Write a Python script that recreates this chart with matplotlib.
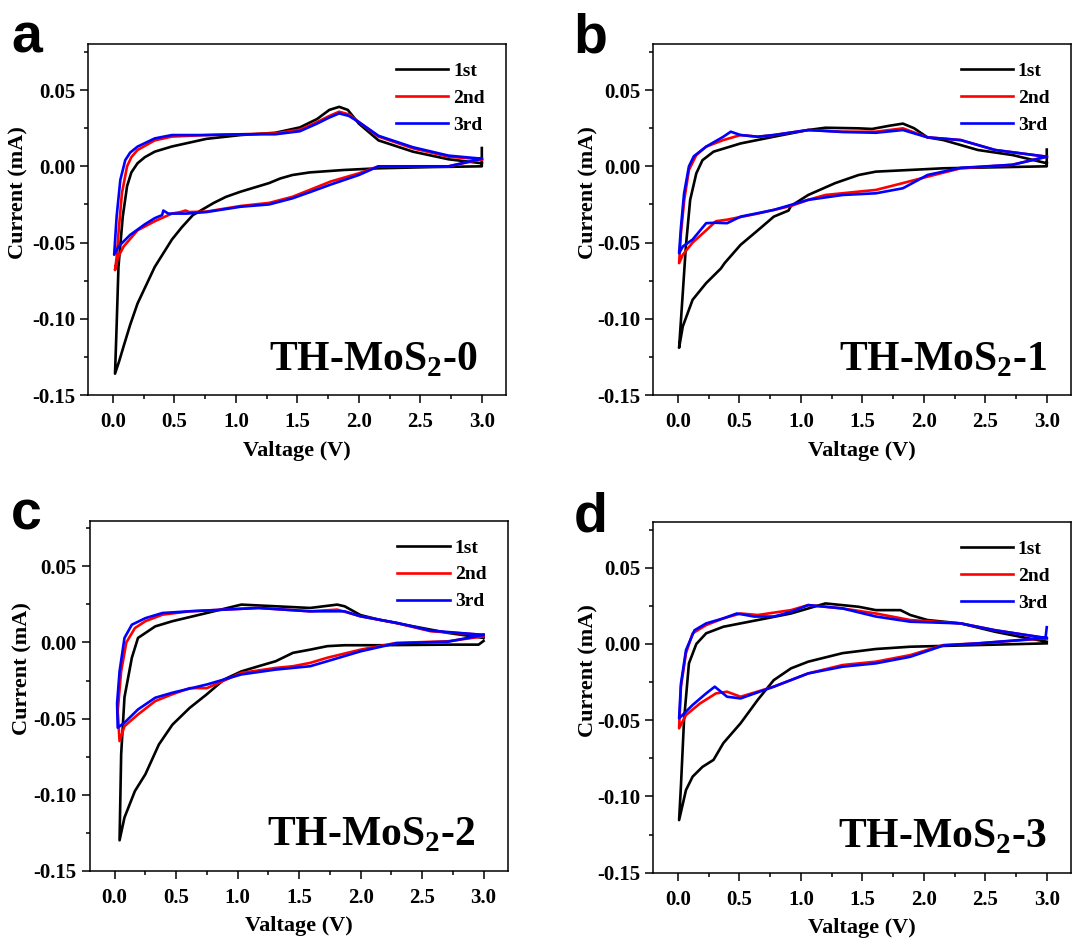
import matplotlib
matplotlib.use("Agg")
import matplotlib.pyplot as plt
from matplotlib.ticker import MultipleLocator, FormatStrFormatter

# ---- data: voltage (V) and current (mA), path 3.0 V -> 0 V -> 3.0 V ----
# panel a  (TH-MoS2-0)
a1_v = [3.0, 3.0, 2.6, 2.16, 1.88, 1.6, 1.46, 1.36, 1.27, 1.04, 0.92, 0.82, 0.65, 0.56, 0.48, 0.34, 0.27, 0.2, 0.14, 0.087, 0.05, 0.017,
        0.03, 0.045, 0.08, 0.115, 0.15, 0.2, 0.26, 0.34, 0.48, 0.76, 1.04, 1.32, 1.52, 1.66, 1.76, 1.84, 1.91, 2.0, 2.16, 2.44, 2.73, 3.0]
a1_i = [0.012, 0.0, -0.0005, -0.0013, -0.0024, -0.004, -0.0057, -0.008, -0.011, -0.0166, -0.020, -0.024, -0.032, -0.040, -0.048, -0.066, -0.078, -0.090, -0.104, -0.118, -0.128, -0.136,
        -0.105, -0.066, -0.033, -0.013, -0.004, 0.002, 0.006, 0.0096, 0.013, 0.018, 0.0205, 0.022, 0.0255, 0.031, 0.037, 0.039, 0.037, 0.028, 0.017, 0.0096, 0.0046, 0.002]
a2_v = [3.0, 2.73, 2.16, 2.0, 1.77, 1.6, 1.46, 1.27, 1.04, 0.76, 0.62, 0.59, 0.55, 0.48, 0.34, 0.2, 0.087, 0.04, 0.017,
        0.03, 0.045, 0.073, 0.115, 0.15, 0.2, 0.34, 0.48, 0.76, 1.04, 1.32, 1.52, 1.66, 1.76, 1.84, 1.92, 2.0, 2.16, 2.44, 2.73, 3.0]
a2_i = [0.0046, 0.0, 0.0, -0.0046, -0.010, -0.0155, -0.020, -0.024, -0.026, -0.0297, -0.030, -0.029, -0.030, -0.031, -0.036, -0.042, -0.0526, -0.060, -0.068,
        -0.060, -0.044, -0.0177, 0.0, 0.006, 0.0107, 0.017, 0.0195, 0.0205, 0.021, 0.0216, 0.024, 0.029, 0.033, 0.0358, 0.034, 0.029, 0.0195, 0.0118, 0.0063, 0.0046]
a3_v = [3.0, 2.73, 2.16, 2.0, 1.77, 1.6, 1.46, 1.27, 1.04, 0.76, 0.6, 0.45, 0.41, 0.40, 0.34, 0.26, 0.14, 0.045, 0.01,
        0.03, 0.06, 0.1, 0.14, 0.2, 0.34, 0.48, 0.76, 1.04, 1.32, 1.52, 1.66, 1.76, 1.84, 1.92, 2.0, 2.16, 2.44, 2.73, 3.0]
a3_i = [0.005, 0.0, 0.0, -0.0057, -0.012, -0.017, -0.021, -0.025, -0.0265, -0.030, -0.031, -0.031, -0.029, -0.032, -0.034, -0.038, -0.045, -0.0526, -0.058,
        -0.033, -0.009, 0.004, 0.009, 0.0129, 0.0183, 0.0205, 0.0205, 0.021, 0.021, 0.023, 0.028, 0.032, 0.0347, 0.033, 0.029, 0.020, 0.0125, 0.007, 0.005]

# panel b  (TH-MoS2-1)
b1_v = [3.0, 3.0, 2.16, 1.61, 1.47, 1.28, 1.06, 0.92, 0.90, 0.78, 0.65, 0.51, 0.38, 0.35, 0.23, 0.12, 0.04, 0.01,
        0.04, 0.065, 0.1, 0.15, 0.2, 0.29, 0.51, 0.78, 1.06, 1.2, 1.47, 1.58, 1.72, 1.83, 1.92, 2.03, 2.16, 2.44, 2.72, 3.0]
b1_i = [0.011, 0.0, -0.0013, -0.0035, -0.0057, -0.011, -0.0188, -0.026, -0.029, -0.033, -0.042, -0.0515, -0.0635, -0.067, -0.0766, -0.0875, -0.105, -0.119,
        -0.083, -0.0526, -0.022, -0.0046, 0.004, 0.0096, 0.015, 0.0194, 0.0238, 0.0253, 0.0249, 0.0245, 0.0266, 0.028, 0.025, 0.019, 0.0172, 0.0107, 0.0074, 0.002]
b2_v = [3.0, 2.72, 2.3, 2.03, 1.83, 1.61, 1.47, 1.2, 1.06, 0.92, 0.65, 0.4, 0.31, 0.23, 0.12, 0.04, 0.01,
        0.025, 0.052, 0.09, 0.15, 0.23, 0.37, 0.51, 0.65, 0.78, 1.06, 1.34, 1.61, 1.83, 2.03, 2.3, 2.58, 3.0]
b2_i = [0.0063, 0.001, -0.0013, -0.0068, -0.011, -0.0155, -0.0166, -0.0188, -0.022, -0.026, -0.031, -0.035, -0.036, -0.042, -0.050, -0.058, -0.0635,
        -0.044, -0.022, -0.0024, 0.0074, 0.0129, 0.0172, 0.0205, 0.0194, 0.0205, 0.0238, 0.0227, 0.0227, 0.0249, 0.019, 0.0172, 0.0107, 0.0063]
b3_v = [3.0, 2.72, 2.3, 2.03, 1.83, 1.61, 1.34, 1.06, 0.78, 0.51, 0.4, 0.3, 0.23, 0.12, 0.04, 0.01,
        0.025, 0.05, 0.09, 0.13, 0.23, 0.37, 0.43, 0.51, 0.65, 0.78, 1.06, 1.34, 1.61, 1.83, 2.03, 2.3, 2.58, 3.0]
b3_i = [0.0063, 0.001, -0.001, -0.0057, -0.0144, -0.0177, -0.0188, -0.022, -0.0286, -0.033, -0.0373, -0.037, -0.0373, -0.048, -0.0526, -0.057,
        -0.040, -0.018, 0.0, 0.0066, 0.0129, 0.0194, 0.0227, 0.0205, 0.0194, 0.0205, 0.0238, 0.0225, 0.022, 0.0238, 0.019, 0.0172, 0.0107, 0.0063]

# panel c  (TH-MoS2-2)
c1_v = [3.0, 2.96, 2.71, 2.15, 1.87, 1.73, 1.59, 1.45, 1.31, 1.17, 1.03, 0.89, 0.75, 0.61, 0.47, 0.36, 0.25, 0.165, 0.08, 0.04,
        0.053, 0.08, 0.14, 0.19, 0.33, 0.47, 0.75, 1.03, 1.31, 1.59, 1.81, 1.87, 2.0, 2.15, 2.43, 2.71, 3.0]
c1_i = [0.001, -0.0014, -0.0014, -0.0018, -0.0018, -0.0024, -0.0047, -0.0068, -0.0123, -0.0156, -0.019, -0.0243, -0.034, -0.043, -0.054, -0.067, -0.0866, -0.0976, -0.115, -0.130,
        -0.0735, -0.036, -0.010, 0.003, 0.0106, 0.014, 0.0194, 0.0249, 0.0238, 0.0227, 0.0249, 0.0238, 0.018, 0.015, 0.0106, 0.0063, 0.003]
c2_v = [3.0, 2.71, 2.29, 2.0, 1.73, 1.59, 1.45, 1.31, 1.03, 0.75, 0.61, 0.47, 0.33, 0.19, 0.08, 0.04,
        0.025, 0.053, 0.095, 0.165, 0.25, 0.39, 0.61, 0.89, 1.17, 1.59, 1.81, 2.0, 2.29, 2.57, 3.0]
c2_i = [0.004, 0.0008, -0.0003, -0.0047, -0.010, -0.0134, -0.0156, -0.0167, -0.020, -0.030, -0.030, -0.034, -0.0385, -0.0473, -0.055, -0.0648,
        -0.045, -0.019, 0.0, 0.0095, 0.014, 0.0183, 0.0205, 0.0216, 0.0227, 0.0205, 0.0216, 0.0172, 0.0128, 0.0074, 0.005]
c3_v = [3.0, 2.71, 2.29, 2.0, 1.73, 1.59, 1.31, 1.03, 0.75, 0.47, 0.33, 0.19, 0.08, 0.025,
        0.02, 0.04, 0.08, 0.14, 0.25, 0.39, 0.61, 0.89, 1.17, 1.59, 1.87, 2.0, 2.29, 2.57, 3.0]
c3_i = [0.005, 0.0005, -0.0005, -0.0058, -0.0123, -0.0156, -0.0178, -0.021, -0.0276, -0.033, -0.0363, -0.044, -0.0527, -0.056,
        -0.040, -0.019, 0.003, 0.0117, 0.016, 0.0194, 0.0205, 0.0216, 0.0227, 0.0205, 0.0205, 0.0172, 0.013, 0.0078, 0.005]

# panel d  (TH-MoS2-3)
d1_v = [3.0, 2.44, 1.89, 1.61, 1.34, 1.06, 0.92, 0.78, 0.65, 0.51, 0.37, 0.29, 0.2, 0.12, 0.066, 0.01,
        0.025, 0.05, 0.09, 0.15, 0.23, 0.37, 0.65, 0.92, 1.2, 1.47, 1.61, 1.81, 1.89, 2.03, 2.3, 2.58, 2.85, 3.0]
d1_i = [0.0004, -0.0007, -0.0018, -0.0033, -0.006, -0.0116, -0.016, -0.0237, -0.0366, -0.052, -0.065, -0.076, -0.0806, -0.087, -0.0958, -0.1155,
        -0.093, -0.050, -0.0127, 0.0, 0.007, 0.0113, 0.0157, 0.020, 0.0266, 0.0244, 0.0222, 0.0222, 0.019, 0.0157, 0.0135, 0.008, 0.0037, 0.0015]
d2_v = [3.0, 2.44, 2.16, 1.89, 1.61, 1.34, 1.06, 0.78, 0.51, 0.4, 0.31, 0.18, 0.066, 0.01,
        0.025, 0.066, 0.12, 0.23, 0.37, 0.51, 0.65, 0.92, 1.06, 1.34, 1.61, 1.89, 2.3, 2.58, 3.0]
d2_i = [0.0037, 0.0004, -0.0007, -0.0073, -0.0116, -0.0138, -0.0193, -0.028, -0.0346, -0.0313, -0.0324, -0.039, -0.0466, -0.0553,
        -0.028, -0.006, 0.007, 0.0124, 0.0168, 0.020, 0.019, 0.0222, 0.0255, 0.0233, 0.020, 0.0157, 0.0135, 0.009, 0.0037]
d3_v = [3.0, 2.44, 2.16, 1.89, 1.61, 1.34, 1.06, 0.78, 0.51, 0.4, 0.3, 0.23, 0.12, 0.01,
        0.025, 0.066, 0.135, 0.23, 0.37, 0.48, 0.62, 0.78, 0.92, 1.06, 1.34, 1.61, 1.89, 2.3, 2.58, 2.99, 3.0]
d3_i = [0.004, 0.0004, -0.001, -0.0084, -0.0127, -0.0149, -0.0193, -0.028, -0.0357, -0.0346, -0.028, -0.0324, -0.040, -0.0488,
        -0.026, -0.004, 0.009, 0.0135, 0.0168, 0.020, 0.018, 0.018, 0.021, 0.0255, 0.0233, 0.018, 0.0146, 0.0135, 0.009, 0.004, 0.011]

cycle_labels = ["1st", "2nd", "3rd"]
cycle_colors = ["#000000", "#ff0000", "#0000ff"]
panel_letters = ["a", "b", "c", "d"]
sample_names = ["TH-MoS$_\\mathbf{2}$-0", "TH-MoS$_\\mathbf{2}$-1", "TH-MoS$_\\mathbf{2}$-2", "TH-MoS$_\\mathbf{2}$-3"]
curves = [
    [(a1_v, a1_i), (a2_v, a2_i), (a3_v, a3_i)],
    [(b1_v, b1_i), (b2_v, b2_i), (b3_v, b3_i)],
    [(c1_v, c1_i), (c2_v, c2_i), (c3_v, c3_i)],
    [(d1_v, d1_i), (d2_v, d2_i), (d3_v, d3_i)],
]

plt.rcParams["font.family"] = "Liberation Serif"
plt.rcParams["font.weight"] = "bold"
plt.rcParams["axes.unicode_minus"] = False
plt.rcParams["mathtext.fontset"] = "custom"
plt.rcParams["mathtext.bf"] = "Liberation Serif:bold"
plt.rcParams["mathtext.rm"] = "Liberation Serif:bold"

fig = plt.figure(figsize=(10.72, 9.39), dpi=100)

boxes = [[0.0824, 0.5793, 0.390, 0.3735],
         [0.6094, 0.5793, 0.390, 0.3735],
         [0.0840, 0.0727, 0.390, 0.3727],
         [0.6094, 0.0706, 0.390, 0.3735]]
letter_xy = [(0.011, 0.9446), (0.535, 0.9436), (0.010, 0.4356), (0.535, 0.4338)]
name_x = [0.930, 0.941, 0.921, 0.941]
ylab_x = [-0.142, -0.132, -0.137, -0.131]

for k in range(4):
    ax = fig.add_axes(boxes[k])
    for (v, cur), lab, col in zip(curves[k], cycle_labels, cycle_colors):
        ax.plot(v, cur, color=col, lw=1.9, label=lab, solid_joinstyle="round")

    ax.set_xlim(-0.2, 3.2)
    ax.set_ylim(-0.15, 0.08)
    ax.xaxis.set_major_locator(MultipleLocator(0.5))
    ax.xaxis.set_minor_locator(MultipleLocator(0.25))
    ax.yaxis.set_major_locator(MultipleLocator(0.05))
    ax.yaxis.set_minor_locator(MultipleLocator(0.025))
    ax.xaxis.set_major_formatter(FormatStrFormatter("%.1f"))
    ax.yaxis.set_major_formatter(FormatStrFormatter("%.2f"))
    ax.tick_params(which="both", direction="out", top=False, right=False, width=1.1)
    ax.tick_params(which="major", length=5.5, labelsize=15, pad=4)
    ax.tick_params(axis="x", which="major", pad=7)
    ax.tick_params(which="minor", length=3)
    for s in ax.spines.values():
        s.set_linewidth(1.1)

    ax.set_xlabel("Valtage (V)", fontsize=16, fontweight="bold")
    ax.xaxis.set_label_coords(0.5, -0.13)
    ax.set_ylabel("Current (mA)", fontsize=16, fontweight="bold")
    ax.yaxis.set_label_coords(ylab_x[k], 0.577)

    ax.legend(loc="center left", bbox_to_anchor=(0.735, 0.846), frameon=False, fontsize=14,
              handlelength=2.7, handletextpad=0.25, labelspacing=0.48, borderpad=0, borderaxespad=0)

    ax.text(name_x[k], 0.072, sample_names[k], transform=ax.transAxes, ha="right", va="baseline",
            fontsize=30, fontweight="bold")
    fig.text(letter_xy[k][0], letter_xy[k][1], panel_letters[k], fontsize=40, fontweight="bold",
             family="Liberation Sans", va="baseline", ha="left")

plt.savefig("out.png", dpi=100)
